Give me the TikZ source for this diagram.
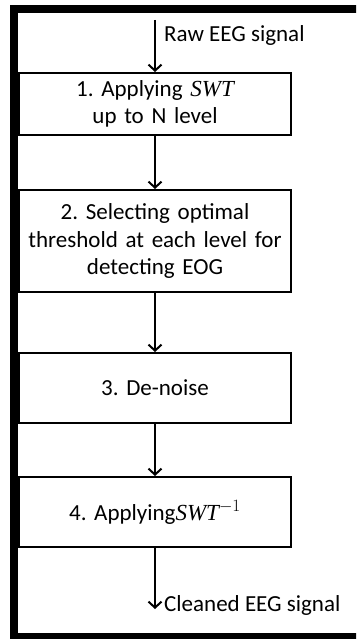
\documentclass[tikz,border=0pt]{standalone}
\usepackage{fontspec}
\setmainfont{Carlito}
\newfontfamily\italserif{Liberation Serif}
\newcommand{\swtname}{{\italserif\itshape SWT}}
\usetikzlibrary{arrows.meta}
\begin{document}
\frenchspacing
\begin{tikzpicture}[x=1pt,y=-1pt,
  font=\fontsize{23}{27.5}\selectfont,
  stepbox/.style={draw, line width=2pt, minimum width=272pt, text width=265pt,
    align=center, inner sep=0pt},
  flow/.style={-{Straight Barb[length=6pt,width=13pt]}, line width=2pt}]
\useasboundingbox (0,0) rectangle (356,639);
\clip (0,0) rectangle (356,639);
% heavy outer frame
\draw[line width=8pt] (13.5,9.5) rectangle (362,637);

\node[stepbox, minimum height=62pt] (s1) at (155,104) {1. Applying \swtname\\up to N level};
\node[stepbox, minimum height=102pt] (s2) at (155,241) {2. Selecting optimal\\threshold at each level for\\detecting EOG};
\node[stepbox, minimum height=70pt] (s3) at (155,388) {3. De-noise};
\node[stepbox, minimum height=70pt] (s4) at (155,512) {4. Applying\swtname$^{-1}$};

\coordinate (in) at (155,20);
\coordinate (out) at (155,609);

\draw[flow] (in) -- (s1.north);
\draw[flow] (s1.south) -- (s2.north);
\draw[flow] (s2.south) -- (s3.north);
\draw[flow] (s3.south) -- (s4.north);
\draw[flow] (s4.south) -- (out);

\node[anchor=west, inner sep=0pt] (rawlbl) at (164,35) {Raw EEG signal};
\node[anchor=west, inner sep=0pt] (cleanlbl) at (164,605) {Cleaned EEG signal};
\end{tikzpicture}
\end{document}
